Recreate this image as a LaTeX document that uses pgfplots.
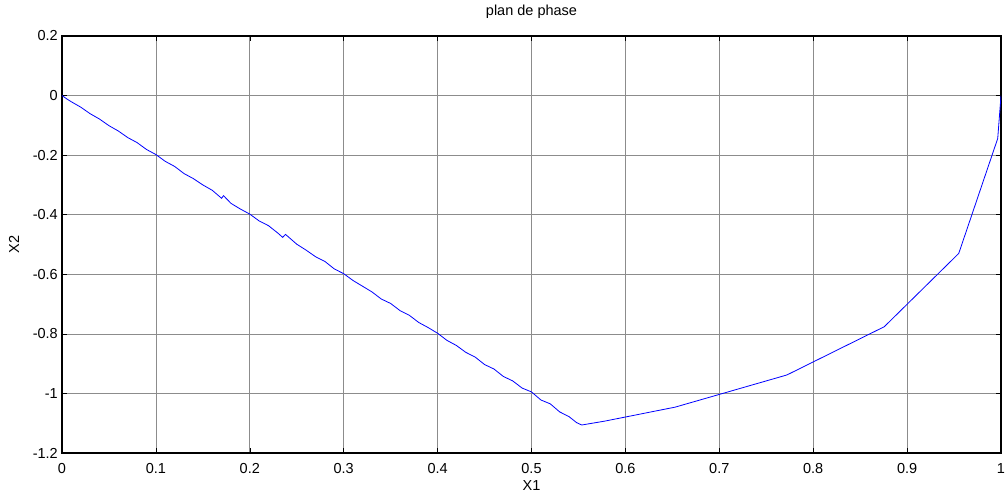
\documentclass[border=0pt]{standalone}
\usepackage{pgfplots}
\pgfplotsset{compat=1.18}
\usepackage{fontspec}
\setmainfont{Liberation Sans}
\begin{document}
\fontsize{14.5}{17}\selectfont
\begin{tikzpicture}
\useasboundingbox (-62pt,-41pt) rectangle (944pt,453pt);
\begin{axis}[
  at={(0,0)}, anchor=south west,
  scale only axis, width=939pt, height=417pt,
  xmin=0, xmax=1, ymin=-1.2, ymax=0.2,
  xtick={0,0.1,...,1.0}, ytick={-1.2,-1,-0.8,-0.6,-0.4,-0.2,0,0.2},
  xticklabels={0,0.1,0.2,0.3,0.4,0.5,0.6,0.7,0.8,0.9,1},
  yticklabels={-1.2,-1,-0.8,-0.6,-0.4,-0.2,0,0.2},
  tick align=inside, major tick length=5pt,
  tick style={black, line width=0.6pt},
  xtick pos=both, ytick pos=both,
  axis line style={black, line width=1.2pt},
  grid=major,
  major grid style={black!45, line width=0.7pt},
  xticklabel style={anchor=base, yshift=-21pt, inner sep=0pt},
  yticklabel style={anchor=east, xshift=-4pt, inner sep=0pt},
  title={plan de phase},
  title style={at={(axis description cs:0.5,1)}, anchor=base, yshift=14pt, inner sep=0pt},
  xlabel={X1},
  xlabel style={at={(axis description cs:0.5,0)}, anchor=base, yshift=-38pt, inner sep=0pt},
  ylabel={X2},
  ylabel style={at={(axis description cs:-0.0511,0.5)}, anchor=center, inner sep=0pt},
]
\addplot[blue, line width=0.8pt] coordinates {
(0,0) (0.005,-0.011) (0.01,-0.021) (0.02,-0.039) (0.03,-0.061) (0.04,-0.079)
(0.05,-0.101) (0.06,-0.119) (0.07,-0.141) (0.08,-0.158) (0.09,-0.181)
(0.10,-0.198) (0.11,-0.221) (0.12,-0.238) (0.13,-0.262) (0.14,-0.279)
(0.15,-0.300) (0.16,-0.318) (0.17,-0.345) (0.172,-0.336) (0.18,-0.362)
(0.19,-0.381) (0.20,-0.398) (0.21,-0.421) (0.22,-0.437) (0.23,-0.462)
(0.235,-0.476) (0.238,-0.466) (0.25,-0.499) (0.26,-0.519) (0.27,-0.541)
(0.28,-0.557) (0.29,-0.582) (0.30,-0.598) (0.31,-0.621) (0.32,-0.640)
(0.33,-0.659) (0.34,-0.683) (0.35,-0.698) (0.36,-0.722) (0.37,-0.738)
(0.38,-0.762) (0.39,-0.779) (0.40,-0.798) (0.41,-0.822) (0.42,-0.839)
(0.43,-0.862) (0.44,-0.878) (0.45,-0.903) (0.46,-0.918) (0.47,-0.943)
(0.48,-0.958) (0.49,-0.982) (0.50,-0.995) (0.51,-1.022) (0.52,-1.035)
(0.53,-1.062) (0.54,-1.078) (0.548,-1.098) (0.5535,-1.106)
(0.578,-1.093) (0.653,-1.046) (0.772,-0.938) (0.8757,-0.776)
(0.955,-0.530) (0.9965,-0.144) (1.0,0)
};
\end{axis}
\end{tikzpicture}
\end{document}
